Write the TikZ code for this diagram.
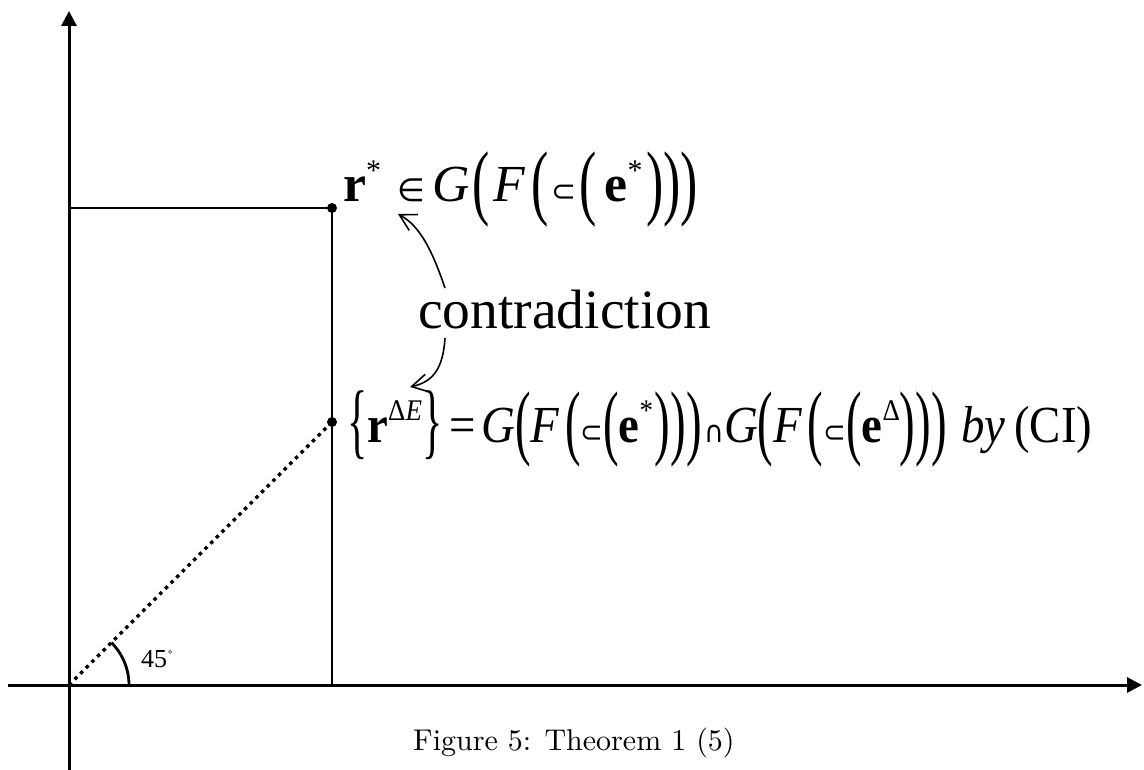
\documentclass[tikz,border=0pt]{standalone}
\usepackage{fontspec}
\newfontfamily\tms{Liberation Serif}
\newfontfamily\dvs{DejaVu Sans}
\newfontfamily\lmten{lmroman10-regular.otf}
\usetikzlibrary{arrows.meta}
\newcommand\mylp{\raisebox{-0.15em}{\scalebox{1}[1.6]{(}}}
\newcommand\myrp{\raisebox{-0.15em}{\scalebox{1}[1.6]{)}}}
\newcommand\mylb{\raisebox{-0.12em}{\scalebox{0.9}[1.6]{\{}}}
\newcommand\myrb{\raisebox{-0.12em}{\scalebox{0.9}[1.6]{\}}}}
\newcommand\mysup[1]{\raisebox{0.42em}{\fontsize{30}{30}\selectfont #1}}
\newcommand\mysym[2][30]{{\dvs\fontsize{#1}{#1}\selectfont #2}}
\tikzset{
  axis/.style={line width=3pt, -{Triangle[length=15pt,width=15pt]}},
  thinline/.style={line width=1.5pt},
  pointdot/.style={circle, fill=black, inner sep=0pt, minimum size=10pt},
  carrow/.style={line width=1.6pt, -{Straight Barb[length=16pt,width=18pt]}},
  bigtext/.style={font=\tms\fontsize{52}{60}\selectfont, inner sep=0pt, anchor=base west},
}
\begin{document}
\begin{tikzpicture}[x=1pt,y=-1pt]
\path[use as bounding box] (0,0) rectangle (1144,770);
% coordinates
\coordinate (O) at (69,685);
\coordinate (Yb) at (69,770);
\coordinate (Yt) at (69,11);
\coordinate (Xl) at (8,685);
\coordinate (Xr) at (1142,685);
\coordinate (C) at (69,208);
\coordinate (B) at (332,685);
\node[pointdot] (P1) at (332,208) {};
\node[pointdot] (P2) at (332,422) {};
% axes
\draw[axis] (Yb) -- (Yt);
\draw[axis] (Xl) -- (Xr);
% rectangle lines
\draw[thinline] (C) -- (P1.center) -- (B);
% dotted diagonal
\draw[line width=3.5pt, dash pattern=on 3.5pt off 4.5pt] (O) -- (P2.center);
% angle
\draw[line width=2.8pt] (129,685) arc[start angle=0, end angle=45, radius=60pt] coordinate (A45);
\node[font=\tms\fontsize{26}{30}\selectfont, inner sep=0pt, anchor=base west] (ang) at (141,667) {45\raisebox{0.45em}{\dvs\fontsize{10}{10}\selectfont ∘}};
% formulas
\node[bigtext] (f1) at (343,202) {\resizebox{355pt}{\height}{\textbf{r}\mysup{*}\hspace{16pt}\mysym[32]{∈}\hspace{8pt}\textit{G}\hspace{2pt}\mylp\hspace{4pt}\textit{F}\hspace{6pt}\mylp\hspace{3pt}\mysym{⊂}\hspace{3pt}\mylp\hspace{8pt}\textbf{e}\mysup{*}\hspace{4pt}\myrp\myrp\myrp}};
\node[bigtext, font=\tms\fontsize{55.5}{60}\selectfont] (con) at (418,328) {contradiction};
\node[bigtext] (f2) at (347,442) {\resizebox{745pt}{\height}{\mylb\textbf{r}\mysup{Δ\textit{E}}\myrb\hspace{8pt}=\hspace{6pt}\textit{G}\mylp\textit{F}\hspace{6pt}\mylp\mysym{⊂}\mylp\textbf{e}\mysup{*}\hspace{2pt}\myrp\myrp\myrp\hspace{3pt}\mysym{∩}\textit{G}\mylp\textit{F}\hspace{6pt}\mylp\mysym{⊂}\mylp\textbf{e}\mysup{Δ}\myrp\myrp\myrp\hspace{16pt}\textit{by}\hspace{10pt}(CI)}};
% contradiction arrows
\coordinate (a1s) at (445,288);
\coordinate (a1e) at (398,214);
\coordinate (a2s) at (445,338);
\coordinate (a2e) at (410,387);
\draw[carrow] (a1s) .. controls (432,250) and (420,226) .. (a1e);
\draw[carrow] (a2s) .. controls (443,370) and (432,382) .. (a2e);
% caption
\node[font=\lmten\fontsize{30}{36}\selectfont, inner sep=0pt, anchor=base west] (cap) at (413,750) {Figure 5: Theorem 1 (5)};
\end{tikzpicture}
\end{document}
